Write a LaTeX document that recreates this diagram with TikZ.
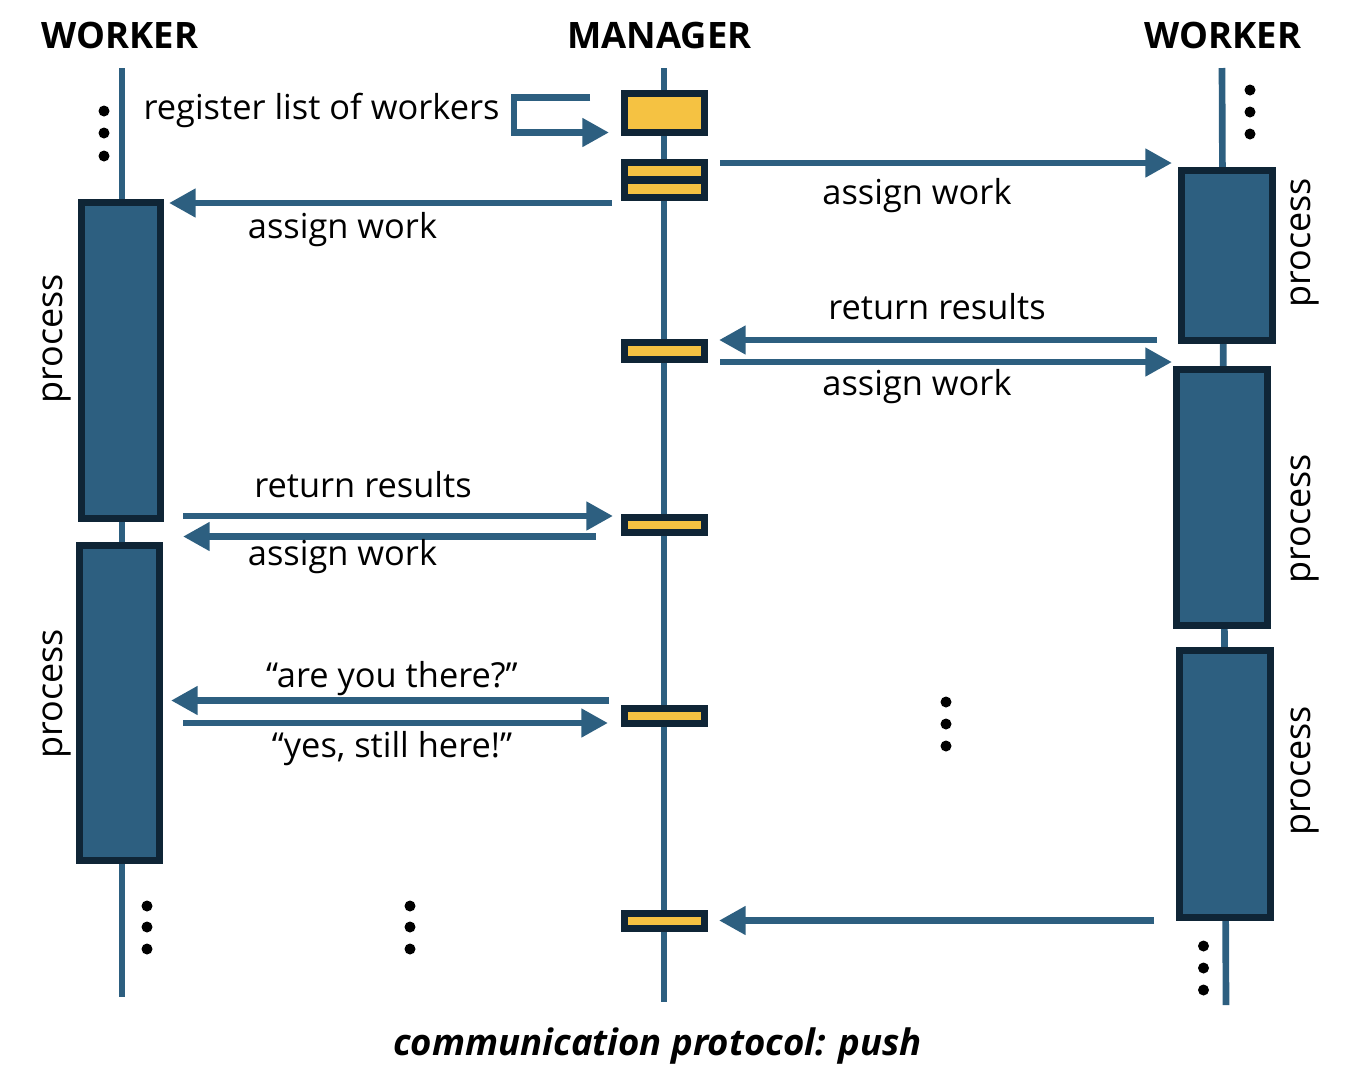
\documentclass[tikz,border=0pt]{standalone}
\usepackage{fontspec}
\setmainfont{Open Sans}
\usetikzlibrary{arrows.meta}

\definecolor{flowblue}{HTML}{2D5F80}
\definecolor{edgedark}{HTML}{0F2536}
\definecolor{tickgold}{HTML}{F5C242}

\begin{document}
\begin{tikzpicture}[x=0.75pt, y=-0.75pt, font=\fontsize{25.8}{30}\selectfont,
    life/.style = {flowblue, line width=5pt},
    msg/.style = {flowblue, line width=5pt, -{Triangle[length=20pt, width=20.5pt]}},
    work/.style = {draw=edgedark, fill=flowblue, line width=5.25pt, inner sep=0pt},
    tick/.style = {draw=edgedark, fill=tickgold, line width=5.25pt, inner sep=0pt, minimum width=60pt},
    dot/.style = {circle, fill=black, inner sep=0pt, minimum size=8.25pt},
    head/.style = {font=\fontsize{27.3}{32}\selectfont\bfseries},
    lbl/.style = {inner sep=0pt},
    proc/.style = {inner sep=0pt, rotate=90, font=\fontsize{27}{32}\selectfont}]

    \useasboundingbox (0,0) rectangle (1364,1072);

    \node[head] (wleft) at (120,35) {WORKER};
    \node[head] (mgr) at (659.5,35) {MANAGER};
    \node[head] (wright) at (1223,35) {WORKER};

    \coordinate (wlTop) at (122,68);
    \coordinate (wlBot) at (122,997);
    \coordinate (mgTop) at (664,68);
    \coordinate (mgBot) at (664,1002);
    \coordinate (wrTop) at (1222,68);
    \coordinate (wrBot) at (1226,1005);
    \draw[life] (wlTop) -- (wlBot);
    \draw[life] (mgTop) -- (mgBot);
    \draw[life] (wrTop) -- (wrBot);

    % manager
    \node[tick, minimum height=29.25pt] (reg) at (664.5,113) {};
    \node[tick, minimum height=26pt] (hand) at (664.5,180) {};
    \draw[edgedark, line width=6pt] (hand.west) -- (hand.east);
    \node[tick, minimum height=12.4pt] (t1) at (664.5,350.75) {};
    \node[tick, minimum height=11.5pt] (t2) at (664.5,525) {};
    \node[tick, minimum height=11.5pt] (t3) at (664.5,716) {};
    \node[tick, minimum height=11.5pt] (t4) at (664.5,921) {};

    % workers
    \node[work, minimum width=59.25pt, minimum height=237pt] (pA) at (121,360.5) {};
    \node[work, minimum width=59.8pt, minimum height=236.25pt] (pB) at (119.4,703) {};
    \node[work, minimum width=68pt, minimum height=127.5pt] (pC) at (1226.9,255.5) {};
    \node[work, minimum width=68.25pt, minimum height=192pt] (pD) at (1221.7,497.5) {};
    \node[work, minimum width=68.25pt, minimum height=200.5pt] (pE) at (1225,784) {};

    \node[proc] (lpA) at (57,339) {process};
    \node[proc] (lpB) at (57,694) {process};
    \node[proc] (lpC) at (1305,243) {process};
    \node[proc] (lpD) at (1305,519) {process};
    \node[proc] (lpE) at (1305,771) {process};

    % messages
    \coordinate (regA) at (590,97.5);
    \coordinate (regB) at (609,132.5);
    \draw[msg] (regA) -- ++(-76,0) |- (regB);
    \node[lbl] (lreg) at (321.5,110) {register list of workers};

    \coordinate (a1s) at (720,163);
    \coordinate (a1e) at (1172,163);
    \draw[msg] (a1s) -- (a1e);
    \node[lbl] (la1) at (917,196) {assign work};

    \coordinate (a2s) at (612,203);
    \coordinate (a2e) at (169,203);
    \draw[msg] (a2s) -- (a2e);
    \node[lbl] (la2) at (342.5,230) {assign work};

    \coordinate (r1s) at (1157,340);
    \coordinate (r1e) at (719,340);
    \draw[msg] (r1s) -- (r1e);
    \node[lbl] (lr1) at (937,307) {return results};

    \coordinate (a3s) at (720,362);
    \coordinate (a3e) at (1172,362);
    \draw[msg] (a3s) -- (a3e);
    \node[lbl] (la3) at (917,387) {assign work};

    \coordinate (r2s) at (183,516);
    \coordinate (r2e) at (613,516);
    \draw[msg] (r2s) -- (r2e);
    \node[lbl] (lr2) at (363,485) {return results};

    \coordinate (a4s) at (596,536.5);
    \coordinate (a4e) at (183,536.5);
    \draw[msg] (a4s) -- (a4e);
    \node[lbl] (la4) at (342.5,557) {assign work};

    \coordinate (q1s) at (609,700.5);
    \coordinate (q1e) at (171,700.5);
    \draw[msg] (q1s) -- (q1e);
    \node[lbl] (lq1) at (392,679) {“are you there?”};

    \coordinate (q2s) at (183,723);
    \coordinate (q2e) at (608,723);
    \draw[msg] (q2s) -- (q2e);
    \node[lbl] (lq2) at (392,749) {“yes, still here!”};

    \coordinate (r3s) at (1154,920.5);
    \coordinate (r3e) at (719,920.5);
    \draw[msg] (r3s) -- (r3e);

    % dots
    \foreach \y [count=\k] in {111,133,156} \node[dot] (dA\k) at (104,\y) {};
    \foreach \y [count=\k] in {90,112,134} \node[dot] (dB\k) at (1250,\y) {};
    \foreach \y [count=\k] in {906,927,949} \node[dot] (dC\k) at (147,\y) {};
    \foreach \y [count=\k] in {906,927,949} \node[dot] (dD\k) at (410,\y) {};
    \foreach \y [count=\k] in {702,724,746} \node[dot] (dE\k) at (946,\y) {};
    \foreach \y [count=\k] in {946,968,990} \node[dot] (dF\k) at (1203.5,\y) {};

    \node[font=\fontsize{27.4}{32}\selectfont\bfseries\itshape] (cap) at (657.5,1046) {communication protocol: push};

\end{tikzpicture}
\end{document}
